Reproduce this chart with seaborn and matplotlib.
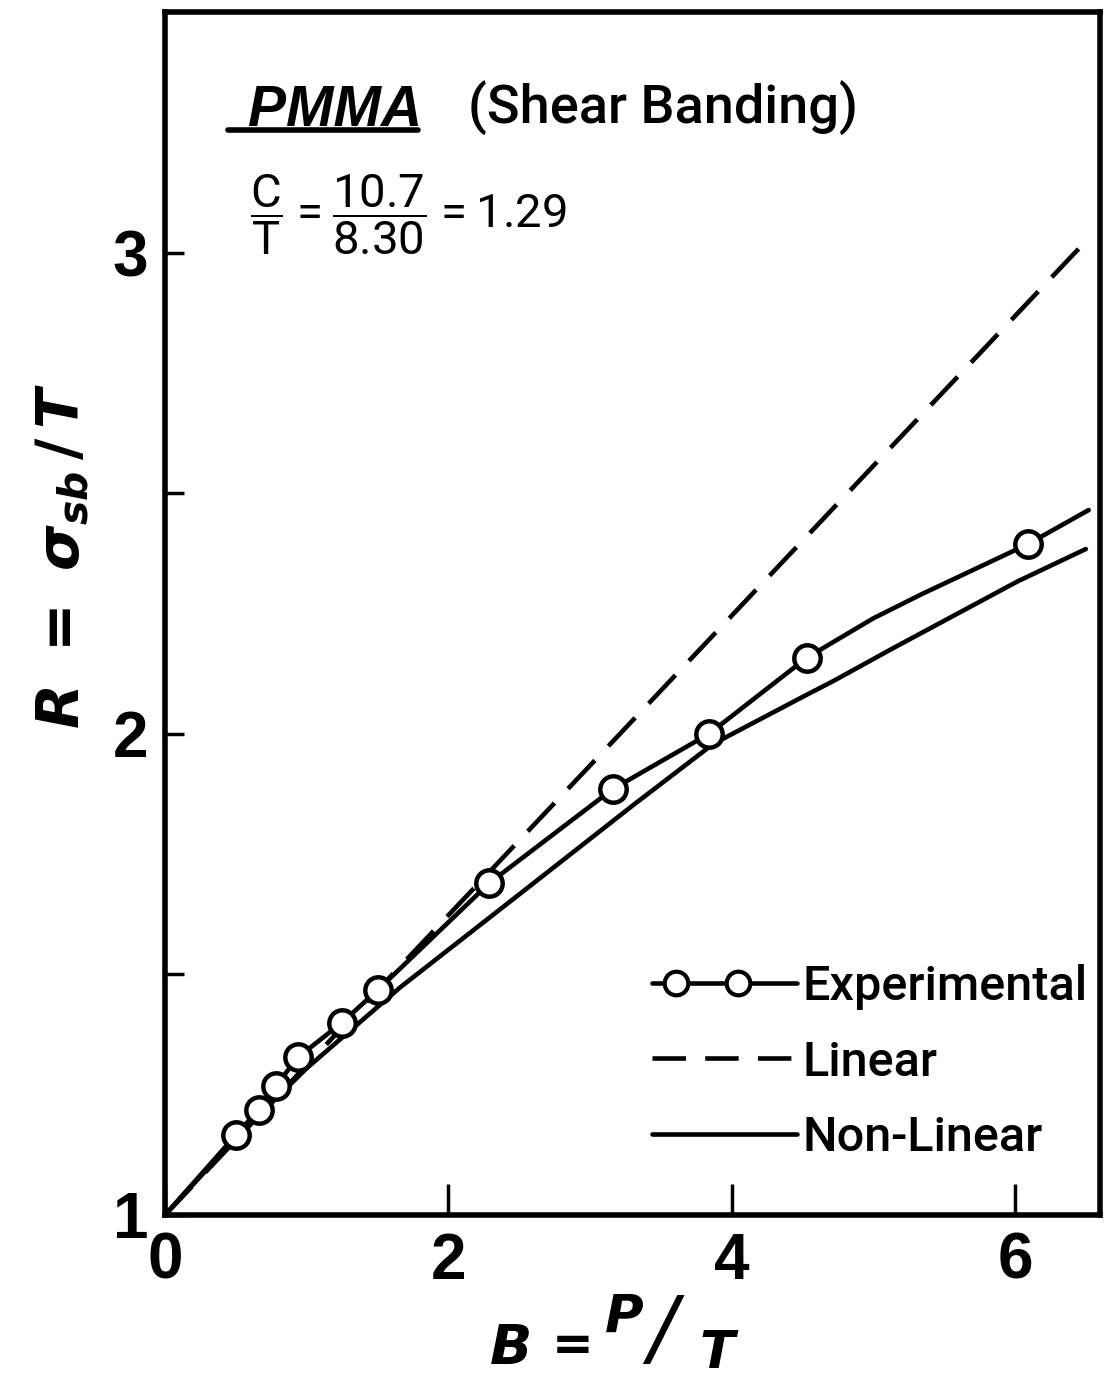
import numpy as np
import pandas as pd
import matplotlib
matplotlib.use("Agg")
import matplotlib.pyplot as plt
import seaborn as sns
from matplotlib.lines import Line2D
from matplotlib.legend_handler import HandlerBase
from matplotlib.font_manager import FontProperties

# ---- data ----
B_exp = [0.50, 0.66, 0.78, 0.94, 1.25, 1.50, 2.29, 3.16, 3.84, 4.53, 6.09]
R_exp = [1.166, 1.218, 1.268, 1.328, 1.400, 1.467, 1.690, 1.885, 2.000, 2.158, 2.394]

B_exp_curve = [0.0, 0.50, 0.66, 0.78, 0.94, 1.25, 1.50, 2.29, 3.16, 3.84, 4.53, 5.00, 5.34, 6.09, 6.52]
R_exp_curve = [1.0, 1.166, 1.218, 1.268, 1.328, 1.400, 1.467, 1.690, 1.885, 2.000, 2.158, 2.240, 2.290, 2.394, 2.465]

B_lin = [0.0, 6.52]
R_lin = [1.0, 3.03]

B_nl = [0.0, 0.50, 1.00, 1.66, 2.56, 3.31, 3.87, 4.49, 4.72, 5.14, 6.02, 6.50]
R_nl = [1.0, 1.160, 1.305, 1.473, 1.680, 1.853, 1.979, 2.075, 2.110, 2.178, 2.317, 2.384]

x_ticks = [0, 2, 4, 6]
y_major = [1, 2, 3]
y_minor = [1.5, 2.5]

legend_labels = ["Experimental", "Linear", "Non-Linear"]

# ---- style ----
sns.set_theme(style="ticks")
plt.rcParams["font.family"] = ["Liberation Sans", "DejaVu Sans"]
plt.rcParams["mathtext.fontset"] = "custom"
plt.rcParams["mathtext.it"] = "DejaVu Sans:bold:italic"
plt.rcParams["mathtext.rm"] = "DejaVu Sans:bold"
plt.rcParams["mathtext.bf"] = "DejaVu Sans:bold"
plt.rcParams["mathtext.sf"] = "Roboto"

fig = plt.figure(figsize=(11.05, 13.81), dpi=100)
ax = fig.add_axes([165 / 1105, 1 - 1215 / 1381, (1100 - 165) / 1105, (1215 - 12) / 1381])

LW = 3.3
df_lin = pd.DataFrame({"B": B_lin, "R": R_lin})
df_nl = pd.DataFrame({"B": B_nl, "R": R_nl})
df_ec = pd.DataFrame({"B": B_exp_curve, "R": R_exp_curve})
df_e = pd.DataFrame({"B": B_exp, "R": R_exp})

sns.lineplot(data=df_lin, x="B", y="R", ax=ax, color="black", lw=LW,
             sort=False, linestyle=(0, (8.5, 4.3)), zorder=2)
sns.lineplot(data=df_nl, x="B", y="R", ax=ax, color="black", lw=LW, sort=False, zorder=2)
sns.lineplot(data=df_ec, x="B", y="R", ax=ax, color="black", lw=LW, sort=False, zorder=3)
ax.plot(df_e["B"], df_e["R"], linestyle="none", marker="o", ms=19,
        mfc="white", mec="black", mew=3.2, zorder=4)

ax.set_xlim(0, 6.6)
ax.set_ylim(1, 3.5)
ax.set_xticks(x_ticks)
ax.set_xticklabels([str(t) for t in x_ticks])
ax.set_yticks(y_major)
ax.set_yticklabels([str(t) for t in y_major])
ax.set_yticks(y_minor, minor=True)
ax.set_xlabel("")
ax.set_ylabel("")

for s in ax.spines.values():
    s.set_visible(True)
    s.set_linewidth(4)
    s.set_color("black")

tick_fp = FontProperties(family=["Liberation Sans", "DejaVu Sans"], weight="bold", size=46)
ax.tick_params(axis="x", direction="in", length=22, width=2.5, pad=12, colors="black")
ax.tick_params(axis="y", which="both", direction="in", length=14, width=2.5, pad=12, colors="black")
for lab in ax.get_xticklabels() + ax.get_yticklabels():
    lab.set_fontproperties(tick_fp)

# ---- title texts ----
fig.text(248 / 1105, 1 - 126 / 1381, "PMMA", fontsize=41, weight="bold", style="italic",
         family=["Liberation Sans", "DejaVu Sans"], color="black", ha="left", va="baseline")
fig.add_artist(Line2D([228 / 1105, 418 / 1105], [1 - 130 / 1381, 1 - 130 / 1381],
                      color="black", lw=4, transform=fig.transFigure))
fig.text(468 / 1105, 1 - 124 / 1381, "(Shear Banding)", fontsize=39, color="black",
         family=["Roboto", "Liberation Sans"], weight="medium", ha="left", va="baseline")
fig.text(250 / 1105, 1 - 215 / 1381,
         r"$\dfrac{\mathsf{C}}{\mathsf{T}}\mathsf{=}\dfrac{\mathsf{10.7}}{\mathsf{8.30}}\mathsf{=1.29}$",
         fontsize=34, color="black", ha="left", va="center")

# ---- axis labels ----
xl_font = dict(family=["DejaVu Sans"], weight="bold", style="italic", color="black")
fig.text(490 / 1105, 1 - 1364 / 1381, "B", fontsize=40, ha="left", va="baseline", **xl_font)
fig.text(552 / 1105, 1 - 1360 / 1381, "=", fontsize=36, ha="left", va="baseline",
         family=["DejaVu Sans"], weight="bold", color="black")
fig.text(605 / 1105, 1 - 1333 / 1381, "P", fontsize=38, ha="left", va="baseline", **xl_font)
fig.text(648 / 1105, 1 - 1356 / 1381, "/", fontsize=60, ha="left", va="baseline",
         family=["DejaVu Sans"], style="italic", weight="normal", color="black")
fig.text(700 / 1105, 1 - 1368 / 1381, "T", fontsize=37, ha="left", va="baseline", **xl_font)

fig.text(62 / 1105, 1 - 556 / 1381, r"$R\ =\ \sigma_{sb}\,/\,T$", fontsize=42,
         rotation=90, ha="center", va="center", color="black")


# ---- legend ----
class ExpHandler(HandlerBase):
    def create_artists(self, legend, orig_handle, xdescent, ydescent,
                       width, height, fontsize, trans):
        y = height / 2 - ydescent
        line = Line2D([-xdescent, -xdescent + width], [y, y], color="black", lw=LW)
        mk = Line2D(-xdescent + np.array([0.17, 0.59]) * width, [y, y], linestyle="none",
                    marker="o", ms=17, mfc="white", mec="black", mew=3)
        line.set_transform(trans)
        mk.set_transform(trans)
        return [line, mk]


h_exp = Line2D([], [], color="black", lw=LW, marker="o")
h_lin = Line2D([], [], color="black", lw=LW, linestyle=(0, (7.3, 4.2)))
h_nl = Line2D([], [], color="black", lw=LW)
leg = ax.legend([h_exp, h_lin, h_nl], legend_labels, loc="lower right",
                bbox_to_anchor=(1.0075, 0.029), frameon=False,
                handler_map={h_exp: ExpHandler()},
                handlelength=3.0, handletextpad=0.1, labelspacing=0.6,
                borderaxespad=0.0, prop=dict(family=["Roboto", "Liberation Sans"],
                                             weight="medium", size=35))
for t in leg.get_texts():
    t.set_color("black")

fig.savefig("out.png", dpi=100, facecolor="white")
